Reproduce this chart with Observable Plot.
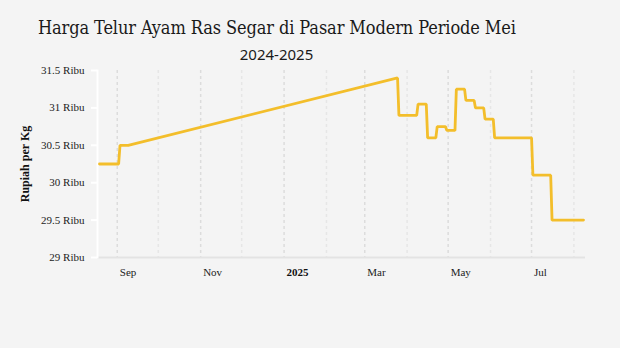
<!DOCTYPE html>
<html>
<head>
<meta charset="utf-8">
<script src="https://cdn.jsdelivr.net/npm/d3@7"></script>
<script src="https://cdn.jsdelivr.net/npm/@observablehq/plot@0.6"></script>
<style>
  html, body { margin: 0; padding: 0; background: #f4f4f4; }
  #wrap { position: relative; width: 620px; height: 348px; background: #f4f4f4; overflow: hidden; }
  #title { position: absolute; left: 38px; top: 17px; font-family: "DejaVu Serif", serif; font-stretch: condensed; font-size: 18px; letter-spacing: -0.1px; line-height: 22px; color: #1a1a1a; white-space: nowrap; }
  #subtitle { position: absolute; left: 0; width: 553px; text-align: center; top: 44px; font-family: "Noto Sans", sans-serif; font-size: 15px; line-height: 20px; color: #1a1a1a; white-space: nowrap; }
  #chart { position: absolute; left: 0; top: 64px; }
</style>
</head>
<body>
<div id="wrap">
  <div id="title">Harga Telur Ayam Ras Segar di Pasar Modern Periode Mei</div>
  <div id="subtitle">2024-2025</div>
  <div id="chart"></div>
</div>
<script>
const dates = [
  "2024-08-19","2024-09-02","2024-09-03","2024-09-09",
  "2025-03-25","2025-03-26","2025-04-08","2025-04-09",
  "2025-04-15","2025-04-16","2025-04-22","2025-04-23",
  "2025-04-29","2025-04-30","2025-05-06","2025-05-07",
  "2025-05-13","2025-05-14","2025-05-20","2025-05-21",
  "2025-05-27","2025-05-28","2025-06-03","2025-06-04",
  "2025-07-01","2025-07-02","2025-07-15","2025-07-16",
  "2025-08-08"
];
const prices = [
  30.25, 30.25, 30.5, 30.5,
  31.4, 30.9, 30.9, 31.05,
  31.05, 30.6, 30.6, 30.75,
  30.75, 30.7, 30.7, 31.25,
  31.25, 31.1, 31.1, 31.0,
  31.0, 30.85, 30.85, 30.6,
  30.6, 30.1, 30.1, 29.5,
  29.5
];
const yTicks = [29, 29.5, 30, 30.5, 31, 31.5];
const majorTicks = ["2024-09-01","2024-11-01","2025-01-01","2025-03-01","2025-05-01","2025-07-01"];
const minorTicks = ["2024-10-01","2024-12-01","2025-02-01","2025-04-01","2025-06-01","2025-08-01"];
const tickLabels = ["Sep","Nov","2025","Mar","May","Jul"];
const yLabel = "Rupiah per Kg";

const parse = d3.utcParse("%Y-%m-%d");
const data = dates.map((d, i) => ({date: parse(d), value: prices[i]}));
const major = majorTicks.map(parse);
const minor = minorTicks.map(parse);
const labelMap = new Map(majorTicks.map((d, i) => [+parse(d), tickLabels[i]]));
const yearTicks = major.filter(d => labelMap.get(+d) === "2025");
const monthTicks = major.filter(d => labelMap.get(+d) !== "2025");

const serif = "'Liberation Serif', 'Times New Roman', serif";

const chart = Plot.plot({
  width: 620,
  height: 284,
  marginLeft: 97,
  marginRight: 35,
  marginTop: 6,
  marginBottom: 91,
  insetLeft: 2,
  insetRight: 2,
  style: {background: "#f4f4f4", fontFamily: serif, fontSize: "11px", color: "#222"},
  x: {type: "utc", domain: d3.extent(data, d => d.date)},
  y: {domain: [29, 31.5]},
  marks: [
    Plot.ruleX(minor, {stroke: "#e6e6e6", strokeWidth: 1.5, strokeDasharray: "3,3"}),
    Plot.ruleX(major, {stroke: "#dcdcdc", strokeWidth: 1.5, strokeDasharray: "3,3"}),
    Plot.ruleY([29], {stroke: "#e3e3e3", strokeWidth: 2}),
    Plot.frame({anchor: "left", stroke: "#ffffff", strokeWidth: 2}),
    Plot.axisY({ticks: yTicks, tickFormat: d => d + " Ribu", tickSize: 6, tickPadding: 7, stroke: "#ffffff", strokeWidth: 2, fill: "#222", fontSize: 11, label: null}),
    Plot.text([yLabel], {frameAnchor: "left", textAnchor: "middle", dx: -72, rotate: -90, fontWeight: "bold", fontSize: 12, fill: "#111"}),
    Plot.axisX({ticks: monthTicks, tickFormat: d => labelMap.get(+d), tickSize: 0, tickPadding: 11, textAnchor: "start", dx: 2.5, fontSize: 11, fill: "#222", label: null}),
    Plot.axisX({ticks: yearTicks, tickFormat: d => labelMap.get(+d), tickSize: 0, tickPadding: 11, textAnchor: "start", dx: 2.5, fontSize: 11, fontWeight: "bold", fill: "#111", label: null}),
    Plot.line(data, {x: "date", y: "value", stroke: "#f3be2b", strokeWidth: 2.8, strokeLinejoin: "miter"})
  ]
});
document.getElementById("chart").appendChild(chart);
</script>
</body>
</html>
